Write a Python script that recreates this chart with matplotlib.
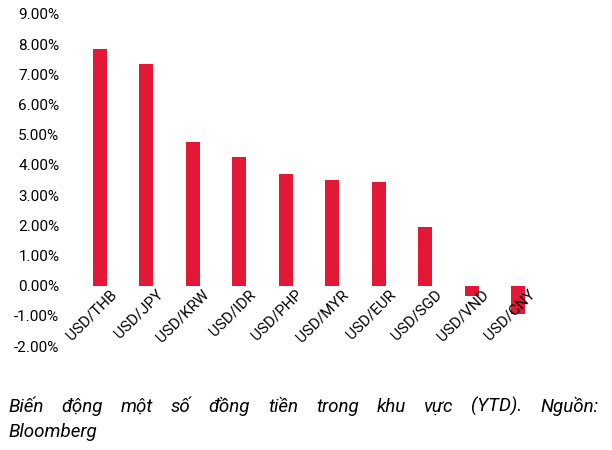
import numpy as np
import matplotlib.pyplot as plt

plt.rcParams['font.family'] = ['Roboto', 'DejaVu Sans']

pairs = ['USD/THB', 'USD/JPY', 'USD/KRW', 'USD/IDR', 'USD/PHP',
         'USD/MYR', 'USD/EUR', 'USD/SGD', 'USD/VND', 'USD/CNY']
ytd = [7.85, 7.33, 4.77, 4.27, 3.71, 3.5, 3.44, 1.95, -0.33, -0.93]
yticks = np.arange(-2, 10, 1)

fig = plt.figure(figsize=(6.12, 4.5), dpi=100)
ax = fig.add_axes([0.106, 0.231, 0.775, 0.738])
x = np.arange(len(pairs))
ax.bar(x, ytd, width=0.3, color='#E31837')

ax.set_ylim(-2, 9)
ax.set_xlim(-0.75, 9.45)
ax.set_yticks(yticks)
ax.set_yticklabels([f'{v:.2f}%' for v in yticks], fontsize=11)
ax.set_xticks([])
ax.tick_params(axis='y', length=0, pad=4)
for s in ax.spines.values():
    s.set_visible(False)

for i, lab in enumerate(pairs):
    ax.text(i + 0.2, -0.05, lab, rotation=45, ha='right', va='top',
            rotation_mode='anchor', fontsize=11)

# justified caption line
words = 'Biến động một số đồng tiền trong khu vực (YTD). Nguồn:'.split()
x0, x1 = 0.013, 0.978
renderer = fig.canvas.get_renderer()
items = [fig.text(0, 0.084, w, fontsize=13.5, style='italic') for w in words]
widths = [t.get_window_extent(renderer).width / fig.bbox.width for t in items]
gap = (x1 - x0 - sum(widths)) / (len(words) - 1)
pos = x0
for t, w in zip(items, widths):
    t.set_x(pos)
    pos += w + gap
fig.text(x0, 0.029, 'Bloomberg', fontsize=13.5, style='italic')

fig.savefig('out.png', dpi=100)
